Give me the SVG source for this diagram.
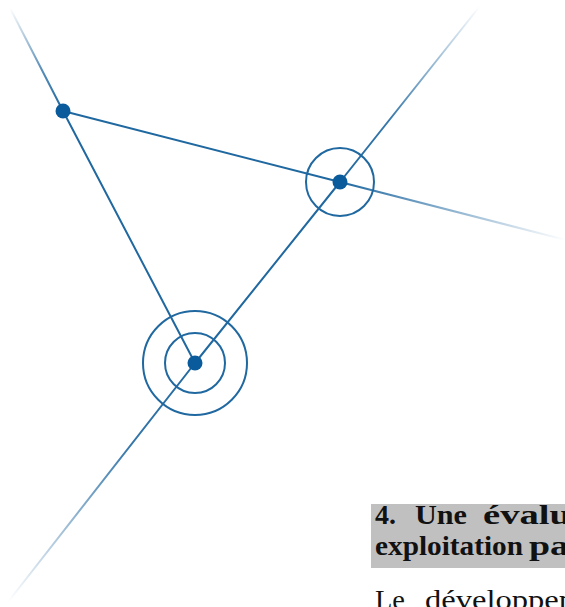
<svg xmlns="http://www.w3.org/2000/svg" width="565" height="607" viewBox="0 0 565 607">
<style>
.ln{stroke:#2068a0;stroke-width:2;fill:none;stroke-linecap:round}
.ring{stroke:#2068a0;stroke-width:2;fill:none}
.dot{fill:#0a5b9c}
.h{font-family:"Liberation Serif",serif;font-weight:bold;font-size:27px;fill:#111}
.b{font-family:"Liberation Serif",serif;font-size:27px;fill:#111}
</style>
<defs>
<linearGradient id="gDown" gradientUnits="userSpaceOnUse" x1="195" y1="363" x2="8" y2="602">
<stop offset="0" stop-color="#2068a0" stop-opacity="1"/>
<stop offset="0.35" stop-color="#2068a0" stop-opacity="0.9"/>
<stop offset="1" stop-color="#2068a0" stop-opacity="0"/>
</linearGradient>
<linearGradient id="gUp" gradientUnits="userSpaceOnUse" x1="340" y1="182" x2="480" y2="6">
<stop offset="0" stop-color="#2068a0" stop-opacity="1"/>
<stop offset="0.35" stop-color="#2068a0" stop-opacity="0.9"/>
<stop offset="1" stop-color="#2068a0" stop-opacity="0"/>
</linearGradient>
<linearGradient id="gRight" gradientUnits="userSpaceOnUse" x1="340" y1="182" x2="566" y2="240">
<stop offset="0" stop-color="#2068a0" stop-opacity="1"/>
<stop offset="0.3" stop-color="#2068a0" stop-opacity="0.7"/>
<stop offset="1" stop-color="#2068a0" stop-opacity="0"/>
</linearGradient>
<linearGradient id="gLeft" gradientUnits="userSpaceOnUse" x1="63" y1="111" x2="10" y2="8">
<stop offset="0" stop-color="#2068a0" stop-opacity="1"/>
<stop offset="0.4" stop-color="#2068a0" stop-opacity="0.75"/>
<stop offset="1" stop-color="#2068a0" stop-opacity="0"/>
</linearGradient>
</defs>
<g id="connectors">
<line class="ln" x1="195" y1="363" x2="340" y2="182"/>
<line class="ln" x1="63" y1="111" x2="340" y2="182"/>
<line class="ln" x1="63" y1="111" x2="195" y2="363"/>
<line class="ln" style="stroke:url(#gDown)" x1="195" y1="363" x2="8" y2="602"/>
<line class="ln" style="stroke:url(#gUp)" x1="340" y1="182" x2="480" y2="6"/>
<line class="ln" style="stroke:url(#gRight)" x1="340" y1="182" x2="566" y2="240"/>
<line class="ln" style="stroke:url(#gLeft)" x1="63" y1="111" x2="10" y2="8"/>
</g>
<g id="nodeA">
<circle class="dot" cx="63" cy="111" r="7.5"/>
</g>
<g id="nodeB">
<circle class="ring" cx="340" cy="182" r="34"/>
<circle class="dot" cx="340" cy="182" r="7.5"/>
</g>
<g id="nodeC">
<circle class="ring" cx="195" cy="363" r="52"/>
<circle class="ring" cx="195" cy="363" r="30"/>
<circle class="dot" cx="195" cy="363" r="7.5"/>
</g>
<g id="heading">
<rect x="371" y="504" width="194" height="64" fill="#c0c0c0"/>
<text class="h" y="524"><tspan x="375" textLength="21" lengthAdjust="spacingAndGlyphs">4.</tspan><tspan x="415" textLength="52" lengthAdjust="spacingAndGlyphs">Une</tspan><tspan x="483" textLength="88" lengthAdjust="spacingAndGlyphs">évalu</tspan></text>
<text class="h" y="555"><tspan x="375" textLength="148" lengthAdjust="spacingAndGlyphs">exploitation</tspan><tspan x="529" textLength="40" lengthAdjust="spacingAndGlyphs">pa</tspan></text>
</g>
<text class="b" y="609"><tspan x="375" textLength="30" lengthAdjust="spacingAndGlyphs">Le</tspan><tspan x="425" textLength="150" lengthAdjust="spacingAndGlyphs">développen</tspan></text>
</svg>
